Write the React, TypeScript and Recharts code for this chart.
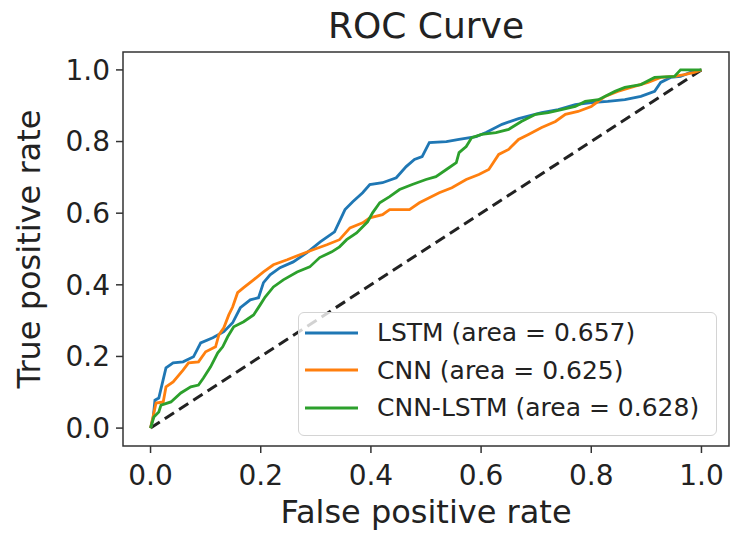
import { Line, LineChart, ReferenceArea, XAxis, YAxis } from 'recharts'

// ROC curves (false positive rate / true positive rate).
const lstmFpr = [0, 0.005, 0.008, 0.015, 0.028, 0.041, 0.059, 0.078, 0.091, 0.113, 0.133, 0.149, 0.163, 0.181, 0.196, 0.205, 0.217, 0.235, 0.259, 0.284, 0.308, 0.334, 0.353, 0.367, 0.385, 0.398, 0.421, 0.446, 0.464, 0.479, 0.493, 0.506, 0.537, 0.56, 0.591, 0.609, 0.638, 0.668, 0.71, 0.74, 0.771, 0.8, 0.83, 0.861, 0.89, 0.915, 0.926, 0.944, 0.962, 0.98, 1]
const lstmTpr = [0, 0.031, 0.078, 0.084, 0.168, 0.182, 0.185, 0.199, 0.238, 0.252, 0.269, 0.294, 0.336, 0.358, 0.364, 0.406, 0.428, 0.448, 0.464, 0.49, 0.52, 0.548, 0.61, 0.632, 0.657, 0.68, 0.685, 0.699, 0.73, 0.75, 0.758, 0.797, 0.8, 0.806, 0.814, 0.825, 0.848, 0.864, 0.881, 0.889, 0.903, 0.909, 0.912, 0.917, 0.926, 0.94, 0.965, 0.979, 0.982, 0.993, 1]

const cnnFpr = [0, 0.006, 0.01, 0.023, 0.028, 0.041, 0.059, 0.069, 0.087, 0.1, 0.118, 0.124, 0.133, 0.142, 0.149, 0.158, 0.169, 0.187, 0.205, 0.223, 0.248, 0.271, 0.295, 0.32, 0.343, 0.362, 0.385, 0.398, 0.421, 0.434, 0.47, 0.488, 0.506, 0.524, 0.547, 0.573, 0.596, 0.614, 0.632, 0.65, 0.668, 0.686, 0.71, 0.735, 0.753, 0.776, 0.8, 0.825, 0.848, 0.872, 0.903, 0.926, 0.951, 0.969, 0.987, 1]
const cnnTpr = [0, 0.042, 0.07, 0.073, 0.115, 0.129, 0.162, 0.182, 0.185, 0.213, 0.227, 0.26, 0.28, 0.316, 0.338, 0.378, 0.392, 0.414, 0.436, 0.456, 0.47, 0.484, 0.498, 0.512, 0.526, 0.559, 0.573, 0.587, 0.596, 0.61, 0.61, 0.629, 0.643, 0.657, 0.671, 0.694, 0.708, 0.722, 0.764, 0.778, 0.806, 0.82, 0.839, 0.856, 0.876, 0.884, 0.898, 0.926, 0.94, 0.951, 0.965, 0.979, 0.982, 0.987, 0.993, 1]

const cnnLstmFpr = [0, 0.006, 0.015, 0.019, 0.037, 0.055, 0.073, 0.087, 0.096, 0.109, 0.122, 0.131, 0.14, 0.151, 0.169, 0.187, 0.199, 0.208, 0.223, 0.241, 0.266, 0.289, 0.307, 0.329, 0.343, 0.356, 0.374, 0.394, 0.403, 0.416, 0.434, 0.452, 0.475, 0.5, 0.518, 0.537, 0.555, 0.56, 0.573, 0.583, 0.601, 0.627, 0.65, 0.673, 0.699, 0.722, 0.746, 0.771, 0.789, 0.813, 0.843, 0.861, 0.89, 0.915, 0.951, 0.962, 0.98, 1]
const cnnLstmTpr = [0, 0.031, 0.045, 0.064, 0.073, 0.098, 0.115, 0.12, 0.14, 0.171, 0.21, 0.227, 0.255, 0.283, 0.297, 0.316, 0.344, 0.366, 0.394, 0.414, 0.436, 0.45, 0.476, 0.492, 0.506, 0.526, 0.545, 0.576, 0.601, 0.629, 0.646, 0.666, 0.68, 0.694, 0.702, 0.722, 0.741, 0.769, 0.786, 0.811, 0.82, 0.825, 0.834, 0.856, 0.876, 0.881, 0.889, 0.898, 0.912, 0.917, 0.94, 0.951, 0.959, 0.979, 0.982, 1, 1, 1]

const chanceFpr = [0, 1]
const chanceTpr = [0, 1]

const seriesNames = ['LSTM (area = 0.657)', 'CNN (area = 0.625)', 'CNN-LSTM (area = 0.628)']
const seriesColors = ['#1f77b4', '#ff7f0e', '#2ca02c']
const axisTicks = [0, 0.2, 0.4, 0.6, 0.8, 1.0]

const toPoints = (xs: number[], ys: number[]) => xs.map((x, i) => ({ x, y: ys[i] }))

const series = [
  toPoints(lstmFpr, lstmTpr),
  toPoints(cnnFpr, cnnTpr),
  toPoints(cnnLstmFpr, cnnLstmTpr),
]
const chance = toPoints(chanceFpr, chanceTpr)

const FONT = '"DejaVu Sans", sans-serif'
const INK = '#222'
const SPINE = '#333'

// matplotlib-style legend box, drawn as an overlay (a recharts <Legend> would eat plot space)
function RocLegend() {
  return (
    <div
      style={{
        position: 'absolute',
        left: 298,
        top: 312,
        boxSizing: 'border-box',
        width: 419,
        height: 124,
        background: 'rgba(255,255,255,0.8)',
        border: '1.5px solid #d4d4d4',
        borderRadius: 6,
        paddingLeft: 6,
        fontFamily: FONT,
        fontSize: 25,
        color: INK,
        pointerEvents: 'none',
      }}
    >
      {seriesNames.map((name, i) => (
        <div key={name} style={{ display: 'flex', alignItems: 'center', height: 37.5, marginTop: i === 0 ? 1 : 0 }}>
          <svg width={53} height={6} style={{ marginRight: 19, flex: 'none' }}>
            <line x1={0} y1={3} x2={53} y2={3} stroke={seriesColors[i]} strokeWidth={3} />
          </svg>
          <span style={{ whiteSpace: 'nowrap' }}>{name}</span>
        </div>
      ))}
    </div>
  )
}

export default function App() {
  return (
    <div style={{ position: 'absolute', left: 0, top: 0, width: 732, height: 534, background: '#fff' }}>
      <LineChart width={732} height={534} margin={{ top: 52, right: 3, bottom: 0, left: 0 }}>
        <XAxis
          dataKey="x"
          type="number"
          domain={[-0.05, 1.05]}
          allowDataOverflow
          ticks={axisTicks}
          tickFormatter={(v: number) => v.toFixed(1)}
          tick={{ fill: INK, fontSize: 28, fontFamily: FONT }}
          tickLine={{ stroke: SPINE, strokeWidth: 1.5 }}
          tickSize={7}
          tickMargin={12}
          axisLine={false}
          height={88}
          label={{
            content: ({ viewBox }: any) => (
              <text
                x={viewBox.x + viewBox.width / 2}
                y={523}
                textAnchor="middle"
                fill={INK}
                fontSize={32}
                fontFamily={FONT}
              >
                False positive rate
              </text>
            ),
          }}
        />
        <YAxis
          type="number"
          domain={[-0.05, 1.05]}
          allowDataOverflow
          ticks={axisTicks}
          tickFormatter={(v: number) => v.toFixed(1)}
          tick={{ fill: INK, fontSize: 28, fontFamily: FONT }}
          tickLine={{ stroke: SPINE, strokeWidth: 1.5 }}
          tickSize={7}
          tickMargin={6}
          axisLine={false}
          width={123}
          label={{
            content: ({ viewBox }: any) => {
              const cx = 40
              const cy = viewBox.y + viewBox.height / 2
              return (
                <text
                  x={cx}
                  y={cy}
                  transform={`rotate(-90 ${cx} ${cy})`}
                  textAnchor="middle"
                  fill={INK}
                  fontSize={32}
                  fontFamily={FONT}
                >
                  True positive rate
                </text>
              )
            },
          }}
        />
        <ReferenceArea x1={-0.05} x2={1.05} y1={-0.05} y2={1.05} fill="none" stroke={SPINE} strokeWidth={1.5} />
        <Line
          data={chance}
          dataKey="y"
          type="linear"
          stroke="#222"
          strokeWidth={3}
          strokeDasharray="11 6"
          dot={false}
          legendType="none"
          isAnimationActive={false}
        />
        {series.map((pts, i) => (
          <Line
            key={seriesNames[i]}
            data={pts}
            dataKey="y"
            name={seriesNames[i]}
            type="linear"
            stroke={seriesColors[i]}
            strokeWidth={2.8}
            dot={false}
            isAnimationActive={false}
          />
        ))}
      </LineChart>
      <div
        style={{
          position: 'absolute',
          left: 123,
          top: 8,
          width: 606,
          textAlign: 'center',
          fontFamily: FONT,
          fontSize: 36,
          lineHeight: '36px',
          color: INK,
        }}
      >
        ROC Curve
      </div>
      <RocLegend />
    </div>
  )
}
